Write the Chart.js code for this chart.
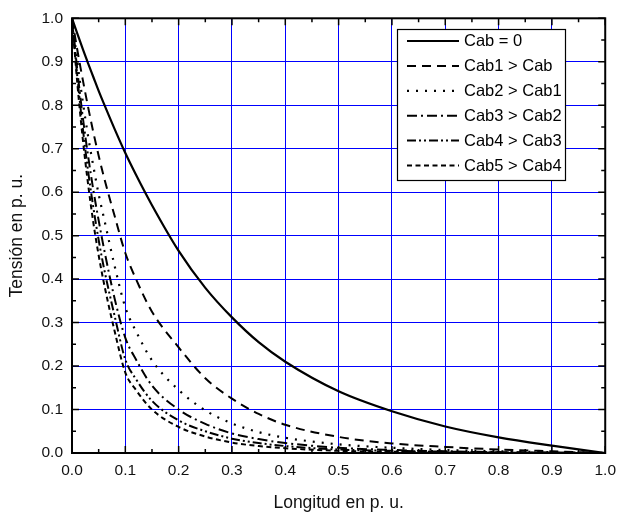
<!DOCTYPE html>
<html>
<head>
<meta charset="utf-8">
<script src="https://cdn.jsdelivr.net/npm/chart.js@4.4.1/dist/chart.umd.min.js"></script>
<style>
  html, body { margin: 0; padding: 0; background: #ffffff; }
  #wrap { width: 624px; height: 516px; }
</style>
</head>
<body>
<div id="wrap"><canvas id="c" width="624" height="516"></canvas></div>
<script>
// Position along the line (p.u.) at which each voltage profile is sampled
const longitud = [0, 0.01, 0.02, 0.03, 0.04, 0.05, 0.06, 0.08, 0.1, 0.12, 0.15, 0.2, 0.25, 0.3, 0.35, 0.4, 0.5, 0.6, 0.7, 0.8, 0.9, 1.0];

// Voltage profiles (p.u.) for increasing cable capacitance
const cab0 = [1.0, 0.965, 0.93, 0.897, 0.865, 0.833, 0.803, 0.745, 0.69, 0.64, 0.57, 0.465, 0.38, 0.312, 0.255, 0.21, 0.142, 0.096, 0.061, 0.036, 0.017, 0.0];
const cab1 = [1.0, 0.927, 0.86, 0.797, 0.738, 0.684, 0.634, 0.545, 0.46, 0.4, 0.325, 0.243, 0.172, 0.125, 0.09, 0.065, 0.037, 0.022, 0.014, 0.008, 0.004, 0.0];
const cab2 = [1.0, 0.9, 0.81, 0.73, 0.66, 0.595, 0.54, 0.43, 0.335, 0.28, 0.213, 0.145, 0.098, 0.068, 0.048, 0.035, 0.02, 0.012, 0.007, 0.004, 0.002, 0.0];
const cab3 = [1.0, 0.88, 0.775, 0.685, 0.605, 0.535, 0.47, 0.355, 0.265, 0.215, 0.155, 0.1, 0.067, 0.045, 0.032, 0.023, 0.012, 0.007, 0.004, 0.002, 0.001, 0.0];
const cab4 = [1.0, 0.865, 0.75, 0.65, 0.565, 0.49, 0.425, 0.315, 0.215, 0.17, 0.12, 0.075, 0.05, 0.033, 0.023, 0.016, 0.008, 0.005, 0.003, 0.0015, 0.0008, 0.0];
const cab5 = [1.0, 0.85, 0.725, 0.62, 0.53, 0.455, 0.39, 0.28, 0.185, 0.145, 0.1, 0.06, 0.038, 0.024, 0.016, 0.011, 0.005, 0.003, 0.002, 0.001, 0.0005, 0.0];

const seriesNames = ['Cab = 0', 'Cab1 > Cab', 'Cab2 > Cab1', 'Cab3 > Cab2', 'Cab4 > Cab3', 'Cab5 > Cab4'];
const seriesValues = [cab0, cab1, cab2, cab3, cab4, cab5];
const dashes = [[], [9, 6], [2, 7], [10, 4, 2, 4], [9, 3, 2, 3, 2, 3], [5, 3.5]];
const widths = [2.2, 2, 2.2, 2, 2, 2];

// Axis tick values (p.u.)
const xTicks = [0, 0.1, 0.2, 0.3, 0.4, 0.5, 0.6, 0.7, 0.8, 0.9, 1.0];
const yTicks = [0, 0.1, 0.2, 0.3, 0.4, 0.5, 0.6, 0.7, 0.8, 0.9, 1.0];

const FONT = '"Liberation Sans", Arial, Helvetica, sans-serif';

const datasets = seriesValues.map((vals, k) => ({
  label: seriesNames[k],
  data: longitud.map((x, i) => ({ x: x, y: vals[i] })),
  borderColor: '#000000',
  borderWidth: widths[k],
  borderDash: dashes[k],
  pointRadius: 0,
  fill: false,
  cubicInterpolationMode: 'monotone'
}));

// Frame with inward major and minor ticks on all four sides
const framePlugin = {
  id: 'frame',
  afterDatasetsDraw(chart) {
    const { ctx, chartArea: a, scales: { x, y } } = chart;
    ctx.save();
    ctx.strokeStyle = '#000000';
    ctx.lineWidth = 2;
    ctx.setLineDash([]);
    ctx.strokeRect(a.left, a.top, a.right - a.left, a.bottom - a.top);
    ctx.lineWidth = 1.5;
    ctx.beginPath();
    for (let i = 0; i < xTicks.length; i++) {
      const px = x.getPixelForValue(xTicks[i]);
      ctx.moveTo(px, a.bottom); ctx.lineTo(px, a.bottom - 7);
      ctx.moveTo(px, a.top); ctx.lineTo(px, a.top + 7);
      if (i < xTicks.length - 1) {
        const pm = x.getPixelForValue((xTicks[i] + xTicks[i + 1]) / 2);
        ctx.moveTo(pm, a.bottom); ctx.lineTo(pm, a.bottom - 4);
        ctx.moveTo(pm, a.top); ctx.lineTo(pm, a.top + 4);
      }
    }
    for (let i = 0; i < yTicks.length; i++) {
      const py = y.getPixelForValue(yTicks[i]);
      ctx.moveTo(a.left, py); ctx.lineTo(a.left + 7, py);
      ctx.moveTo(a.right, py); ctx.lineTo(a.right - 7, py);
      if (i < yTicks.length - 1) {
        const pm = y.getPixelForValue((yTicks[i] + yTicks[i + 1]) / 2);
        ctx.moveTo(a.left, pm); ctx.lineTo(a.left + 4, pm);
        ctx.moveTo(a.right, pm); ctx.lineTo(a.right - 4, pm);
      }
    }
    ctx.stroke();
    ctx.restore();
  }
};

// Boxed legend in the upper right of the plot
const legendBoxPlugin = {
  id: 'legendBox',
  afterDraw(chart) {
    const ctx = chart.ctx;
    const bx = 397, by = 29, bw = 168, bh = 151;
    ctx.save();
    ctx.fillStyle = '#ffffff';
    ctx.fillRect(bx, by, bw, bh);
    ctx.strokeStyle = '#000000';
    ctx.lineWidth = 1.2;
    ctx.setLineDash([]);
    ctx.strokeRect(bx + 0.5, by + 0.5, bw, bh);
    ctx.font = '16.5px ' + FONT;
    ctx.textBaseline = 'middle';
    ctx.fillStyle = '#000000';
    chart.data.datasets.forEach((ds, k) => {
      const ry = by + 12 + k * 24.9;
      ctx.beginPath();
      ctx.lineWidth = ds.borderWidth;
      ctx.setLineDash(ds.borderDash);
      ctx.moveTo(bx + 10, ry);
      ctx.lineTo(bx + 62, ry);
      ctx.stroke();
      ctx.setLineDash([]);
      ctx.fillText(ds.label, bx + 67, ry + 0.5);
    });
    ctx.restore();
  }
};

new Chart(document.getElementById('c'), {
  type: 'line',
  data: { datasets: datasets },
  options: {
    responsive: false,
    animation: false,
    events: [],
    layout: { padding: { top: 13, right: 12, left: 0, bottom: 0 } },
    plugins: { legend: { display: false }, tooltip: { enabled: false } },
    scales: {
      x: {
        type: 'linear',
        min: 0, max: 1,
        afterBuildTicks(scale) { scale.ticks = xTicks.map(v => ({ value: v })); },
        afterFit(scale) { scale.height = 63; },
        grid: { color: '#0000ff', lineWidth: 1, drawTicks: false },
        border: { display: false },
        ticks: {
          padding: 8,
          color: '#111111',
          font: { family: FONT, size: 15.5 },
          maxRotation: 0,
          callback: v => Number(v).toFixed(1)
        },
        title: {
          display: true,
          text: 'Longitud en p. u.',
          color: '#111111',
          font: { family: FONT, size: 17.5 },
          padding: { top: 0, bottom: 2.5 }
        }
      },
      y: {
        type: 'linear',
        min: 0, max: 1,
        afterBuildTicks(scale) { scale.ticks = yTicks.map(v => ({ value: v })); },
        afterFit(scale) { scale.width = 72; },
        grid: { color: '#0000ff', lineWidth: 1, drawTicks: false },
        border: { display: false },
        ticks: {
          padding: 9,
          color: '#111111',
          font: { family: FONT, size: 15.5 },
          callback: v => Number(v).toFixed(1)
        },
        title: {
          display: true,
          text: 'Tensión en p. u.',
          color: '#111111',
          font: { family: FONT, size: 17.5 },
          padding: { top: 6.5, bottom: 0 }
        }
      }
    }
  },
  plugins: [framePlugin, legendBoxPlugin]
});
</script>
</body>
</html>
